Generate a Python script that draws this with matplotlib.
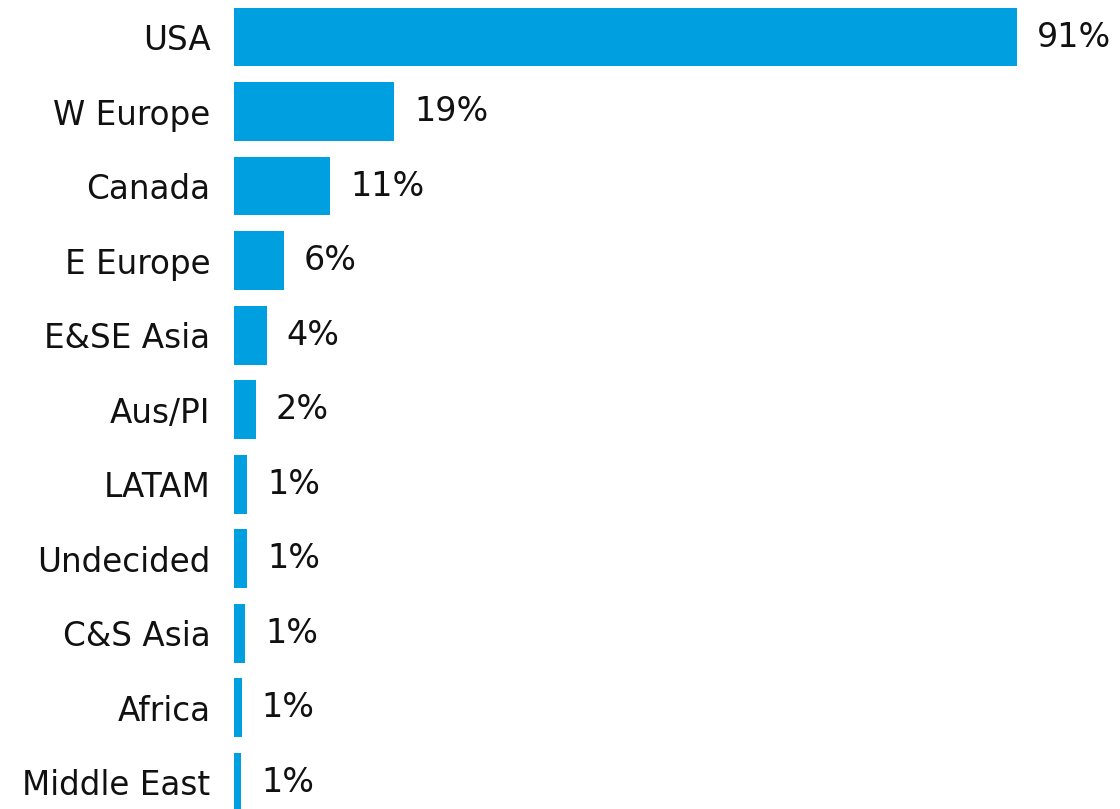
import matplotlib
matplotlib.use("Agg")
import matplotlib.pyplot as plt

# Дані
regions = ["USA", "W Europe", "Canada", "E Europe", "E&SE Asia", "Aus/PI",
           "LATAM", "Undecided", "C&S Asia", "Africa", "Middle East"]
values = [91, 18.6, 11.2, 5.8, 3.8, 2.5, 1.5, 1.5, 1.3, 0.9, 0.8]
labels = ["91%", "19%", "11%", "6%", "4%", "2%", "1%", "1%", "1%", "1%", "1%"]

plt.rcParams['font.family'] = ['DejaVu Sans']

fig = plt.figure(figsize=(11.2, 8.09), dpi=100)
ax = fig.add_axes([234 / 1120, 0, 1 - 234 / 1120, 1])

pos = list(range(len(regions)))
ax.barh(pos, values, height=0.79, color="#009FDF")

ax.set_ylim(10.36, -0.497)
ax.set_xlim(0, 103)

for p, v, t in zip(pos, values, labels):
    ax.annotate(t, xy=(v, p), xytext=(20, 0), textcoords="offset pixels",
                va="center", ha="left", fontsize=24, color="#111111")

ax.set_yticks(pos)
ax.set_yticklabels(regions, fontsize=23.5, color="#111111")
ax.tick_params(axis="y", length=0, pad=17)
ax.set_xticks([])
for s in ax.spines.values():
    s.set_visible(False)

fig.savefig("out.png", dpi=100)
